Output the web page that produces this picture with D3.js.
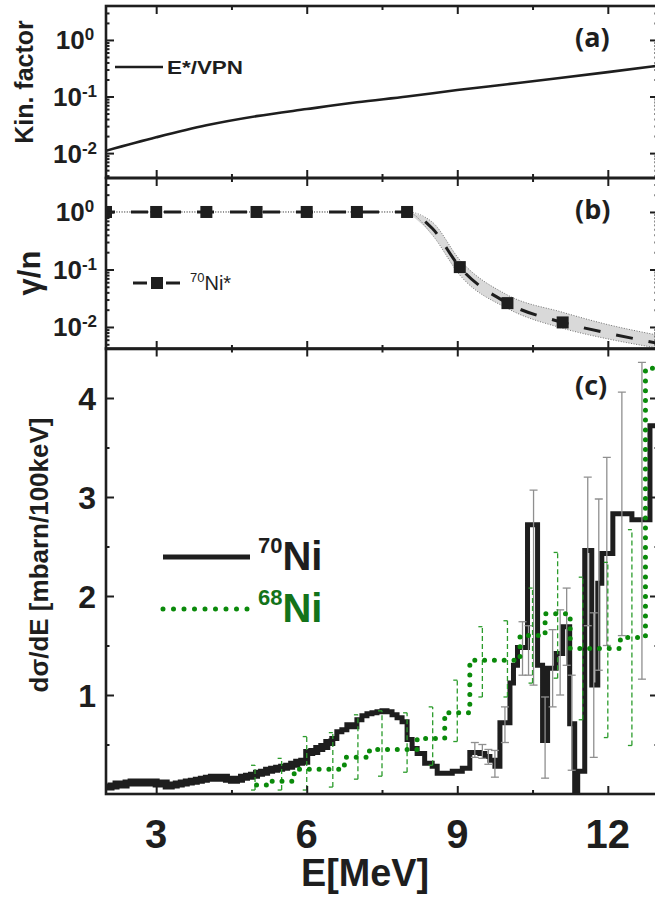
<!DOCTYPE html>
<html>
<head>
<meta charset="utf-8">
<script src="https://cdn.jsdelivr.net/npm/d3@7"></script>
<style>
  body { margin: 0; background: #fff; }
  svg { display: block; }
</style>
</head>
<body>
<div id="chart"></div>
<script>
// ---- panel (a): kinematic factor E*/VPN
var kinE = [2, 3, 4, 5, 6, 7, 8, 9, 10, 11, 12, 13];
var kinV = [0.011, 0.019, 0.031, 0.045, 0.06, 0.079, 0.10, 0.13, 0.165, 0.21, 0.27, 0.35];

// ---- panel (b): gamma/n ratio for 70Ni*
var gnE  = [2, 3, 4, 5, 6, 7, 8, 8.5, 9.05, 10, 11.1, 12, 13];
var gnV  = [1, 1, 1, 1, 1, 1, 1, 0.52, 0.11, 0.026, 0.012, 0.0078, 0.0052];
var gnHi = [1, 1, 1, 1, 1, 1, 1, 0.67, 0.147, 0.036, 0.018, 0.011, 0.0072];
var gnLo = [1, 1, 1, 1, 1, 1, 1, 0.40, 0.08, 0.021, 0.0095, 0.0062, 0.0043];
var gnMarkE = [2, 3, 4, 5, 6, 7, 8, 9.05, 10, 11.1];
var gnMarkV = [1, 1, 1, 1, 1, 1, 1, 0.11, 0.026, 0.012];

// ---- panel (c): 70Ni histogram (bin start, value), last edge 13
var ni70E = [2.0, 2.1, 2.2, 2.3, 2.4, 2.5, 2.6, 2.7, 2.8, 2.9,
             3.0, 3.1, 3.2, 3.3, 3.4, 3.5, 3.6, 3.7, 3.8, 3.9,
             4.0, 4.1, 4.2, 4.3, 4.4, 4.5, 4.6, 4.7, 4.8, 4.9,
             5.0, 5.1, 5.2, 5.3, 5.4, 5.5, 5.6, 5.7, 5.8, 5.9,
             6.0, 6.1, 6.2, 6.3, 6.4, 6.5, 6.6, 6.7, 6.8, 6.9,
             7.0, 7.1, 7.2, 7.3, 7.4, 7.5, 7.6, 7.7, 7.8, 7.9,
             8.0, 8.1, 8.2, 8.35, 8.5, 8.6, 8.9, 9.1, 9.25, 9.45,
             9.55, 9.65, 9.75, 9.85, 10.05, 10.12, 10.2, 10.4, 10.6, 10.7,
             10.8, 10.97, 11.1, 11.24, 11.34, 11.4, 11.54, 11.68, 11.8, 11.88,
             12.1, 12.48, 12.84];
var ni70V = [0.07, 0.08, 0.10, 0.09, 0.11, 0.12, 0.11, 0.12, 0.11, 0.12,
             0.10, 0.11, 0.08, 0.09, 0.10, 0.11, 0.12, 0.13, 0.14, 0.15,
             0.16, 0.17, 0.16, 0.17, 0.15, 0.14, 0.15, 0.17, 0.18, 0.19,
             0.21, 0.22, 0.24, 0.25, 0.26, 0.27, 0.28, 0.30, 0.32, 0.33,
             0.42, 0.43, 0.46, 0.48, 0.52, 0.56, 0.63, 0.65, 0.70, 0.68,
             0.75, 0.79, 0.81, 0.82, 0.83, 0.84, 0.83, 0.80, 0.77, 0.73,
             0.55, 0.46, 0.41, 0.31, 0.28, 0.21, 0.23, 0.26, 0.42, 0.41,
             0.38, 0.34, 0.28, 0.72, 1.12, 1.30, 1.48, 2.72, 1.30, 0.54,
             1.27, 1.42, 1.69, 0.71, -0.1, 0.23, 2.46, 1.10, 2.13, 2.43,
             2.83, 2.77, 3.72];
var ni70ErrE  = [9.35, 9.5, 9.62, 9.75, 9.95, 10.3, 10.42, 10.52, 10.75, 10.9, 11.05, 11.18, 11.28, 11.6, 11.72, 11.82, 11.98, 12.28, 12.68];
var ni70ErrLo = [0.37, 0.36, 0.30, 0.17, 0.52, 1.20, 1.20, 1.10, 0.16, 0.88, 1.00, 1.30, 0.24, 1.70, 0.37, 1.25, 1.50, 1.60, 1.16];
var ni70ErrHi = [0.52, 0.50, 0.45, 0.44, 0.88, 1.74, 1.70, 3.07, 0.98, 1.66, 1.86, 2.08, 1.20, 3.20, 1.83, 2.98, 3.40, 4.06, 4.36];

// ---- panel (c): 68Ni histogram
var ni68E = [5.0, 5.3, 5.75, 6.75, 7.25, 8.2, 8.75, 9.25, 10.25, 10.75, 11.25, 12.25, 12.75];
var ni68V = [0.09, 0.13, 0.25, 0.37, 0.45, 0.56, 0.82, 1.35, 1.60, 1.82, 1.47, 1.58, 4.3];
var ni68ErrE  = [4.97, 5.5, 6.0, 6.52, 7.02, 7.5, 8.0, 8.51, 9.0, 9.5, 10.0, 10.5, 11.0, 11.5, 12.0, 12.48];
var ni68ErrLo = [0.04, 0.04, 0.04, 0.07, 0.15, 0.18, 0.22, 0.29, 0.53, 0.98, 0.98, 1.12, 1.17, 0.75, 0.57, 0.49];
var ni68ErrHi = [0.29, 0.36, 0.58, 0.62, 0.80, 0.84, 0.82, 0.88, 1.15, 1.69, 1.75, 2.08, 2.44, 2.19, 2.34, 2.67];

var xMajor = [3, 6, 9, 12], xMinor = [4.5, 7.5, 10.5];
var cMajor = [1, 2, 3, 4], cMinor = [0.5, 1.5, 2.5, 3.5];
var decLabels = [0, -1, -2];

var W = 655, H = 898;
var AX = "#1e1e1e", GREEN = "#0a8a0a", GREEN_TXT = "#13731a";
var svg = d3.select("#chart").append("svg").attr("width", W).attr("height", H);

var x = d3.scaleLinear().domain([2, 13]).range([106, 658]);
var yA = d3.scaleLog().domain([Math.pow(10, -2.44), Math.pow(10, 0.6)]).range([178, 6]);
var yB = d3.scaleLog().domain([Math.pow(10, -2.383), Math.pow(10, 0.591)]).range([349, 178]);
var yC = d3.scaleLinear().domain([0, 4.5]).range([794, 348.5]);

function clip(id, y0, y1) {
  svg.append("clipPath").attr("id", id).append("rect")
    .attr("x", 106).attr("y", y0).attr("width", 552).attr("height", y1 - y0);
}
clip("clipA", 6, 178); clip("clipB", 178, 349); clip("clipC", 348.5, 794);

function logTicks(scale) {
  var dom = scale.domain(), maj = [], min = [];
  for (var e = -3; e <= 1; e++) {
    for (var m = 1; m < 10; m++) {
      var v = m * Math.pow(10, e);
      if (v < dom[0] || v > dom[1]) continue;
      if (m == 1) maj.push(v); else min.push(v);
    }
  }
  return [maj, min];
}

function ticks(axisFn, scale, vals, size, tx, ty) {
  var g = svg.append("g").attr("transform", "translate(" + tx + "," + ty + ")")
    .call(axisFn(scale).tickValues(vals).tickSize(size).tickFormat(""));
  g.select(".domain").remove();
  g.selectAll("line").attr("stroke", AX).attr("stroke-width", 2);
}

function frame(y, yTop, yBot, yMaj, yMin) {
  ticks(d3.axisBottom, x, xMajor, -8, 0, yBot);
  ticks(d3.axisBottom, x, xMinor, -4, 0, yBot);
  ticks(d3.axisTop, x, xMajor, -8, 0, yTop);
  ticks(d3.axisTop, x, xMinor, -4, 0, yTop);
  ticks(d3.axisLeft, y, yMaj, -8, 106, 0);
  ticks(d3.axisLeft, y, yMin, -3.5, 106, 0);
  ticks(d3.axisRight, y, yMaj, -8, 658, 0);
  ticks(d3.axisRight, y, yMin, -3.5, 658, 0);
  svg.append("rect").attr("x", 106).attr("y", yTop).attr("width", 552).attr("height", yBot - yTop)
    .attr("fill", "none").attr("stroke", AX).attr("stroke-width", 2.6);
}

function decadeLabels(y) {
  decLabels.forEach(function(p) {
    var t = svg.append("text").attr("x", 75).attr("y", y(Math.pow(10, p)) + 9.5)
      .attr("text-anchor", "middle")
      .style("font-family", "Liberation Sans, Arial").style("font-weight", "bold")
      .style("font-size", "26px").attr("fill", AX);
    t.append("tspan").text("10");
    t.append("tspan").attr("dy", -9).style("font-size", "17px").text(p == 0 ? "0" : "-" + (-p));
  });
}

function panelLabel(txt, yy) {
  svg.append("text").attr("x", 575).attr("y", yy).text(txt)
    .style("font-family", "Open Sans").style("font-weight", "bold").style("font-size", "27px")
    .attr("fill", AX);
}

// ================= panel (a)
var gA = svg.append("g").attr("clip-path", "url(#clipA)");
gA.append("path").datum(d3.zip(kinE, kinV))
  .attr("fill", "none").attr("stroke", AX).attr("stroke-width", 2.6)
  .attr("d", d3.line().x(function(d) { return x(d[0]); }).y(function(d) { return yA(d[1]); })
    .curve(d3.curveMonotoneX));
var lt = logTicks(yA);
frame(yA, 6, 178, lt[0], lt[1]);
decadeLabels(yA);
svg.append("line").attr("x1", 115).attr("x2", 163).attr("y1", 67).attr("y2", 67)
  .attr("stroke", AX).attr("stroke-width", 2.6);
svg.append("text").attr("x", 167).attr("y", 74).text("E*/VPN")
  .style("font-family", "Liberation Sans, Arial").style("font-weight", "bold").style("font-size", "18px")
  .attr("textLength", 76).attr("lengthAdjust", "spacingAndGlyphs").attr("fill", AX);
svg.append("text").attr("transform", "translate(33,82) rotate(-90)").attr("text-anchor", "middle")
  .text("Kin. factor")
  .style("font-family", "Liberation Sans, Arial").style("font-weight", "bold").style("font-size", "25px")
  .attr("fill", AX);
panelLabel("(a)", 47);

// ================= panel (b)
var gB = svg.append("g").attr("clip-path", "url(#clipB)");
var bandData = d3.zip(gnE, gnLo, gnHi).filter(function(d) { return d[0] >= 8; });
gB.append("path").datum(bandData).attr("fill", "#d9d9d9")
  .attr("d", d3.area().x(function(d) { return x(d[0]); })
    .y0(function(d) { return yB(d[1]); }).y1(function(d) { return yB(d[2]); })
    .curve(d3.curveMonotoneX));
[gnLo, gnHi].forEach(function(arr) {
  gB.append("path").datum(d3.zip(gnE, arr)).attr("fill", "none")
    .attr("stroke", "#666").attr("stroke-width", 0.9).attr("stroke-dasharray", "1,1.6")
    .attr("d", d3.line().x(function(d) { return x(d[0]); }).y(function(d) { return yB(d[1]); })
      .curve(d3.curveMonotoneX));
});
gB.append("path").datum(d3.zip(gnE, gnV)).attr("fill", "none")
  .attr("stroke", AX).attr("stroke-width", 3).attr("stroke-dasharray", "17,16")
  .attr("stroke-dashoffset", 8)
  .attr("d", d3.line().x(function(d) { return x(d[0]); }).y(function(d) { return yB(d[1]); })
    .curve(d3.curveMonotoneX));
gB.selectAll("rect.mk").data(d3.zip(gnMarkE, gnMarkV)).enter().append("rect")
  .attr("x", function(d) { return x(d[0]) - 6; }).attr("y", function(d) { return yB(d[1]) - 6; })
  .attr("width", 12).attr("height", 12).attr("fill", AX);
lt = logTicks(yB);
frame(yB, 178, 349, lt[0], lt[1]);
decadeLabels(yB);
svg.append("line").attr("x1", 133).attr("x2", 147).attr("y1", 283).attr("y2", 283).attr("stroke", AX).attr("stroke-width", 3);
svg.append("line").attr("x1", 166).attr("x2", 180).attr("y1", 283).attr("y2", 283).attr("stroke", AX).attr("stroke-width", 3);
svg.append("rect").attr("x", 151).attr("y", 277).attr("width", 12).attr("height", 12).attr("fill", AX);
var lb = svg.append("text").attr("x", 190).attr("y", 290).attr("fill", AX)
  .style("font-family", "Liberation Sans, Arial").style("font-size", "20px");
lb.append("tspan").attr("dy", -8).style("font-size", "13px").text("70");
lb.append("tspan").attr("dy", 8).text("Ni*");
svg.append("text").attr("transform", "translate(40,273) rotate(-90)").attr("text-anchor", "middle")
  .text("γ/n")
  .style("font-family", "Liberation Sans, Arial").style("font-weight", "bold").style("font-size", "31px")
  .attr("fill", AX);
panelLabel("(b)", 219);

// ================= panel (c)
var gC = svg.append("g").attr("clip-path", "url(#clipC)");
var step = d3.line().x(function(d) { return x(d[0]); }).y(function(d) { return yC(d[1]); })
  .curve(d3.curveStepAfter);
var blk = d3.zip(ni70E, ni70V); blk.push([13, ni70V[ni70V.length - 1]]);
var grn = d3.zip(ni68E, ni68V); grn.push([13, ni68V[ni68V.length - 1]]);

// fine-binned low-energy part looks thicker (many small error bars)
gC.append("path").datum(blk.filter(function(d) { return d[0] <= 6.5; }))
  .attr("fill", "none").attr("stroke", "#1e1e1e").attr("stroke-width", 7).attr("d", step);
gC.append("path").datum(blk).attr("fill", "none").attr("stroke", "#1e1e1e")
  .attr("stroke-width", 5).attr("stroke-linejoin", "miter").attr("d", step);

// gray error bars on 70Ni
var eb = gC.selectAll("g.eb").data(d3.zip(ni70ErrE, ni70ErrLo, ni70ErrHi)).enter().append("g")
  .attr("stroke", "#8f8f8f").attr("stroke-width", 1.3);
eb.append("line").attr("x1", function(d) { return x(d[0]); }).attr("x2", function(d) { return x(d[0]); })
  .attr("y1", function(d) { return yC(d[1]); }).attr("y2", function(d) { return yC(d[2]); });
eb.append("line").attr("x1", function(d) { return x(d[0]) - 4; }).attr("x2", function(d) { return x(d[0]) + 4; })
  .attr("y1", function(d) { return yC(d[2]); }).attr("y2", function(d) { return yC(d[2]); });
eb.append("line").attr("x1", function(d) { return x(d[0]) - 4; }).attr("x2", function(d) { return x(d[0]) + 4; })
  .attr("y1", function(d) { return yC(d[1]); }).attr("y2", function(d) { return yC(d[1]); });

// green dashed error bars on 68Ni
var gb = gC.selectAll("g.gb").data(d3.zip(ni68ErrE, ni68ErrLo, ni68ErrHi)).enter().append("g")
  .attr("stroke", "#2c9c2c").attr("stroke-width", 1.3);
gb.append("line").attr("x1", function(d) { return x(d[0]); }).attr("x2", function(d) { return x(d[0]); })
  .attr("y1", function(d) { return yC(d[1]); }).attr("y2", function(d) { return yC(d[2]); })
  .attr("stroke-dasharray", "5,3");
gb.append("line").attr("x1", function(d) { return x(d[0]) - 4; }).attr("x2", function(d) { return x(d[0]); })
  .attr("y1", function(d) { return yC(d[2]); }).attr("y2", function(d) { return yC(d[2]); });
gb.append("line").attr("x1", function(d) { return x(d[0]) - 4; }).attr("x2", function(d) { return x(d[0]); })
  .attr("y1", function(d) { return yC(d[1]); }).attr("y2", function(d) { return yC(d[1]); });

gC.append("path").datum(grn).attr("fill", "none").attr("stroke", GREEN)
  .attr("stroke-width", 5).attr("stroke-linecap", "round").attr("stroke-dasharray", "0,9.8")
  .attr("d", step);

frame(yC, 348.5, 794, cMajor, cMinor);

svg.selectAll("text.cy").data(cMajor).enter().append("text")
  .attr("x", 96).attr("y", function(d) { return yC(d) + 11.5; }).attr("text-anchor", "end")
  .text(function(d) { return d; })
  .style("font-family", "Liberation Sans, Arial").style("font-weight", "bold").style("font-size", "32px")
  .attr("fill", AX);
svg.selectAll("text.cx").data(xMajor).enter().append("text")
  .attr("x", function(d) { return x(d); }).attr("y", 848).attr("text-anchor", "middle")
  .text(function(d) { return d; })
  .style("font-family", "Liberation Sans, Arial").style("font-weight", "bold").style("font-size", "40px")
  .attr("fill", AX);
svg.append("text").attr("x", 365).attr("y", 886).attr("text-anchor", "middle").text("E[MeV]")
  .style("font-family", "Liberation Sans, Arial").style("font-weight", "bold").style("font-size", "38px")
  .attr("textLength", 128).attr("lengthAdjust", "spacingAndGlyphs").attr("fill", AX);
svg.append("text").attr("transform", "translate(48,555) rotate(-90)").attr("text-anchor", "middle")
  .text("dσ/dE [mbarn/100keV]")
  .style("font-family", "Liberation Sans, Arial").style("font-weight", "bold").style("font-size", "26px")
  .attr("fill", AX);
panelLabel("(c)", 395);

// legend (c)
svg.append("line").attr("x1", 163).attr("x2", 250).attr("y1", 557).attr("y2", 557)
  .attr("stroke", "#1e1e1e").attr("stroke-width", 5);
svg.append("line").attr("x1", 163).attr("x2", 250).attr("y1", 609).attr("y2", 609)
  .attr("stroke", GREEN).attr("stroke-width", 5).attr("stroke-linecap", "round").attr("stroke-dasharray", "0,10.5");
[["70", 570, AX], ["68", 622, GREEN_TXT]].forEach(function(l) {
  var t = svg.append("text").attr("x", 258).attr("y", l[1]).attr("fill", l[2])
    .style("font-family", "Liberation Sans, Arial").style("font-weight", "bold").style("font-size", "40px");
  t.append("tspan").attr("dy", -17).style("font-size", "22px").text(l[0]);
  t.append("tspan").attr("dy", 17).text("Ni");
});
</script>
</body>
</html>
